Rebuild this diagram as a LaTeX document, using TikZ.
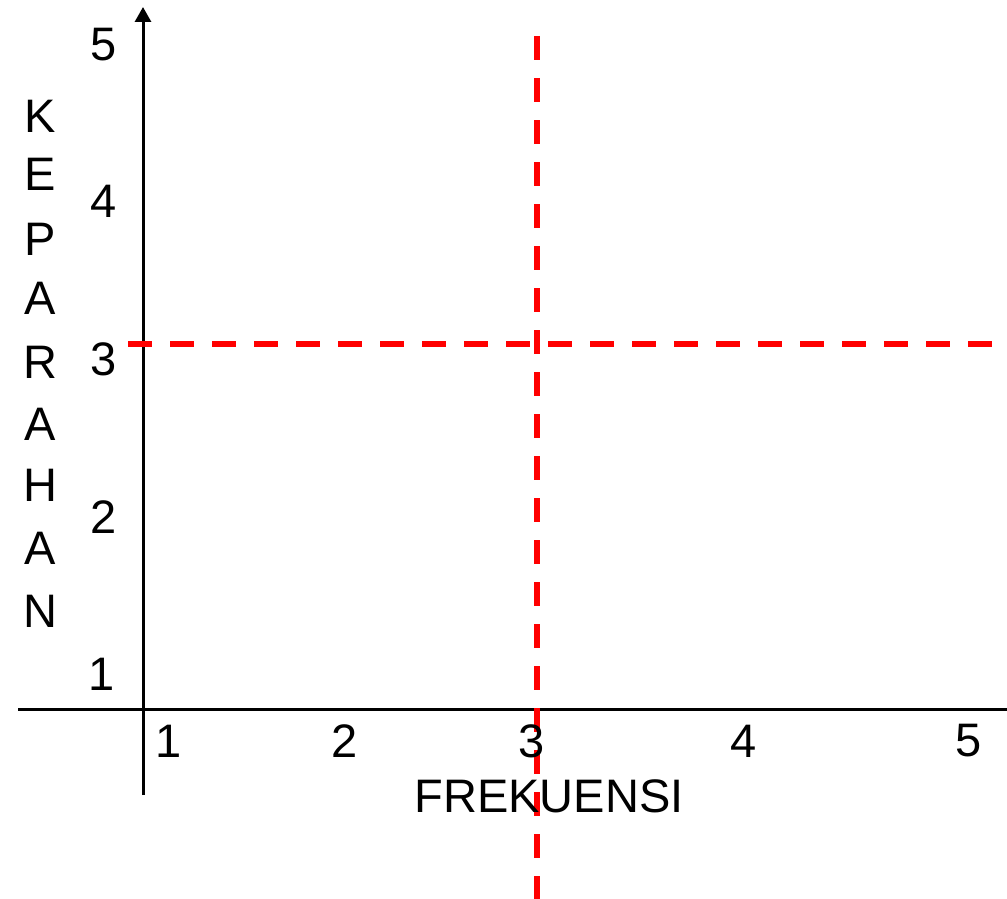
\documentclass[tikz,border=0pt]{standalone}
\usepackage{fontspec}
\setmainfont{Liberation Sans}
\usetikzlibrary{arrows.meta}
\tikzset{
  lbl/.style={inner sep=0pt, font=\fontsize{47}{47}\selectfont},
  axis/.style={line width=3pt, black},
  guide/.style={line width=6pt, red, dash pattern=on 24pt off 18pt}
}
\begin{document}
\begin{tikzpicture}[x=1pt,y=-1pt]
\useasboundingbox (0,0) rectangle (1007,899);
\clip (0,0) rectangle (1007,899);
% coordinates
\coordinate (yb) at (143,795);
\coordinate (yt) at (143,7);
\coordinate (xl) at (18,709);
\coordinate (xr) at (1010,709);
\coordinate (vt) at (537,36);
\coordinate (vb) at (537,905);
\coordinate (hl) at (128,344);
\coordinate (hr) at (1010,344);
% axes
\draw[axis] (xl) -- (xr);
\draw[axis, -{Triangle[length=15pt,width=16pt]}] (yb) -- (yt);
% guides
\draw[guide] (vt) -- (vb);
\draw[guide] (hl) -- (hr);
% y tick labels
\node[lbl] (y5) at (104,45) {5};
\node[lbl] (y4) at (104,201) {4};
\node[lbl] (y3) at (104,359) {3};
\node[lbl] (y2) at (104,517) {2};
\node[lbl] (y1) at (102,674) {1};
% x tick labels
\node[lbl] (x1) at (169,741) {1};
\node[lbl] (x2) at (345,741) {2};
\node[lbl] (x3) at (532,741) {3};
\node[lbl] (x4) at (744,741) {4};
\node[lbl] (x5) at (969,741) {5};
% axis titles
\node[lbl] (xt) at (549,796) {FREKUENSI};
\node[lbl] (k1) at (40,116) {K};
\node[lbl] (k2) at (40,174) {E};
\node[lbl] (k3) at (40,239) {P};
\node[lbl] (k4) at (40,298) {A};
\node[lbl] (k5) at (40,362) {R};
\node[lbl] (k6) at (40,424) {A};
\node[lbl] (k7) at (40,485) {H};
\node[lbl] (k8) at (40,548) {A};
\node[lbl] (k9) at (40,611) {N};
\end{tikzpicture}
\end{document}
